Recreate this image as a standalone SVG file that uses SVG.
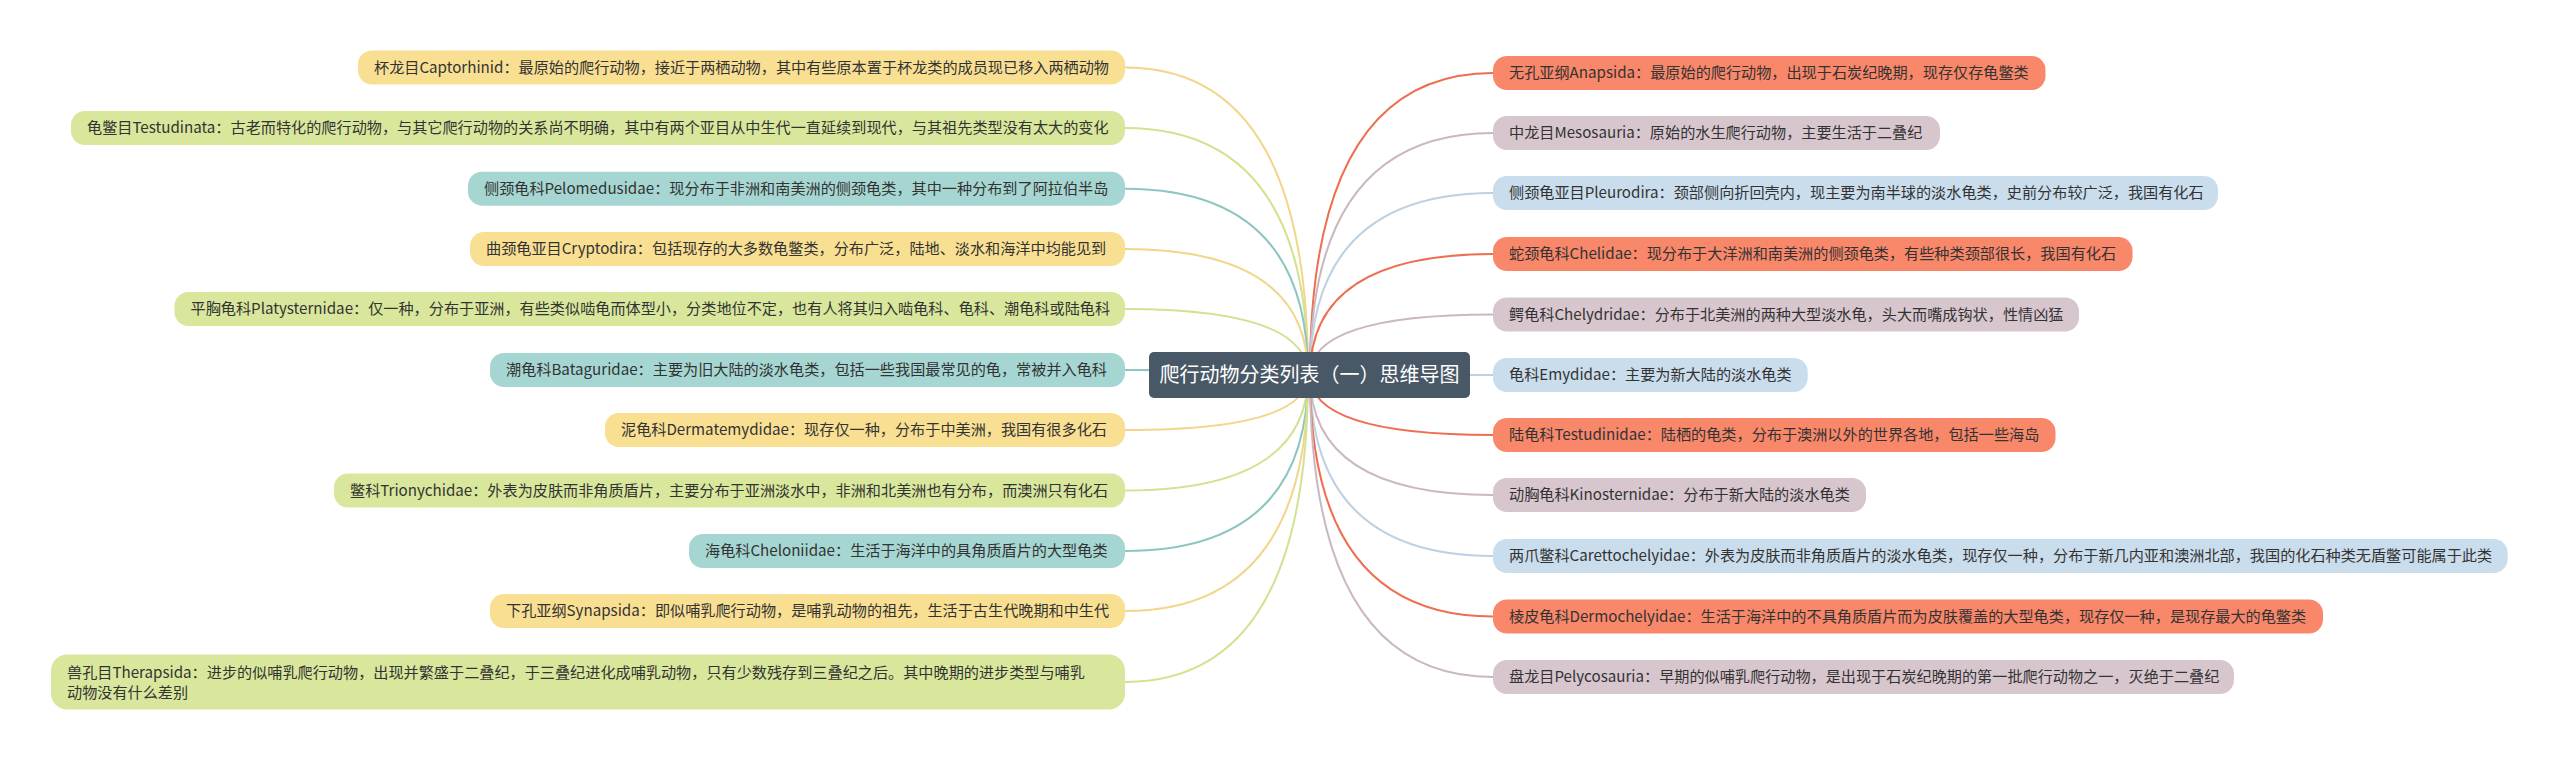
<svg xmlns="http://www.w3.org/2000/svg" width="2560" height="760" viewBox="0 0 2560 760">
<style>
.t{font-family:"Noto Sans CJK SC","Noto Sans",sans-serif;font-size:15.15px;fill:#333333}
.c{fill:none;stroke-width:2}
.y{fill:#F9DF92}.g{fill:#D8E79B}.tl{fill:#A6D6D2}.o{fill:#F9876A}.m{fill:#D8C6CE}.b{fill:#CADDEC}
.ly{stroke:#F3D68C}.lg{stroke:#D2E290}.ltl{stroke:#8CC6C1}.lo{stroke:#EE6E4F}.lm{stroke:#CBB7C1}.lb{stroke:#BDD1E3}
</style>
<rect width="2560" height="760" fill="#ffffff"/>
<g id="connectors">
<path class="c ly" d="M1308 375 Q1308 67.5 1125 67.5"/>
<path class="c lg" d="M1308 375 Q1308 128 1125 128"/>
<path class="c ltl" d="M1308 375 Q1308 188.7 1125 188.7"/>
<path class="c ly" d="M1308 375 Q1308 249 1125 249"/>
<path class="c lg" d="M1308 375 Q1308 309 1125 309"/>
<path class="c ltl" d="M1308 375 Q1308 370 1125 370"/>
<path class="c ly" d="M1308 375 Q1308 430 1125 430"/>
<path class="c lg" d="M1308 375 Q1308 490.5 1125 490.5"/>
<path class="c ltl" d="M1308 375 Q1308 551 1125 551"/>
<path class="c ly" d="M1308 375 Q1308 611 1125 611"/>
<path class="c lg" d="M1308 375 Q1308 682 1125 682"/>
<path class="c lo" d="M1310 375 Q1310 73 1493 73"/>
<path class="c lm" d="M1310 375 Q1310 133 1493 133"/>
<path class="c lb" d="M1310 375 Q1310 193 1493 193"/>
<path class="c lo" d="M1310 375 Q1310 254 1493 254"/>
<path class="c lm" d="M1310 375 Q1310 314.5 1493 314.5"/>
<path class="c lb" d="M1310 375 Q1310 375 1493 375"/>
<path class="c lo" d="M1310 375 Q1310 435 1493 435"/>
<path class="c lm" d="M1310 375 Q1310 495 1493 495"/>
<path class="c lb" d="M1310 375 Q1310 556 1493 556"/>
<path class="c lo" d="M1310 375 Q1310 616.5 1493 616.5"/>
<path class="c lm" d="M1310 375 Q1310 677 1493 677"/>
</g>
<g id="root">
<rect x="1149" y="352" width="321" height="46" rx="5" fill="#485866"/>
<text x="1309.5" y="382" text-anchor="middle" font-family="'Noto Sans CJK SC',sans-serif" font-size="20" fill="#ffffff">爬行动物分类列表（一）思维导图</text>
</g>
<g id="L1"><rect class="y" x="358" y="50.5" width="767" height="34" rx="14"/><text class="t" x="374" y="72.5">杯龙目Captorhinid：最原始的爬行动物，接近于两栖动物，其中有些原本置于杯龙类的成员现已移入两栖动物</text></g>
<g id="L2"><rect class="g" x="71" y="111" width="1054" height="34" rx="14"/><text class="t" x="87" y="133">龟鳖目Testudinata：古老而特化的爬行动物，与其它爬行动物的关系尚不明确，其中有两个亚目从中生代一直延续到现代，与其祖先类型没有太大的变化</text></g>
<g id="L3"><rect class="tl" x="468" y="171.7" width="657" height="34" rx="14"/><text class="t" x="484" y="193.7">侧颈龟科Pelomedusidae：现分布于非洲和南美洲的侧颈龟类，其中一种分布到了阿拉伯半岛</text></g>
<g id="L4"><rect class="y" x="470" y="232" width="655" height="34" rx="14"/><text class="t" x="486" y="254">曲颈龟亚目Cryptodira：包括现存的大多数龟鳖类，分布广泛，陆地、淡水和海洋中均能见到</text></g>
<g id="L5"><rect class="g" x="174.5" y="292" width="950.5" height="34" rx="14"/><text class="t" x="190.5" y="314">平胸龟科Platysternidae：仅一种，分布于亚洲，有些类似啮龟而体型小，分类地位不定，也有人将其归入啮龟科、龟科、潮龟科或陆龟科</text></g>
<g id="L6"><rect class="tl" x="490" y="353" width="635" height="34" rx="14"/><text class="t" x="506" y="375">潮龟科Bataguridae：主要为旧大陆的淡水龟类，包括一些我国最常见的龟，常被并入龟科</text></g>
<g id="L7"><rect class="y" x="605" y="413" width="520" height="34" rx="14"/><text class="t" x="621" y="435">泥龟科Dermatemydidae：现存仅一种，分布于中美洲，我国有很多化石</text></g>
<g id="L8"><rect class="g" x="334" y="473.5" width="791" height="34" rx="14"/><text class="t" x="350" y="495.5">鳖科Trionychidae：外表为皮肤而非角质盾片，主要分布于亚洲淡水中，非洲和北美洲也有分布，而澳洲只有化石</text></g>
<g id="L9"><rect class="tl" x="689" y="534" width="436" height="34" rx="14"/><text class="t" x="705" y="556">海龟科Cheloniidae：生活于海洋中的具角质盾片的大型龟类</text></g>
<g id="L10"><rect class="y" x="490" y="594" width="635" height="34" rx="14"/><text class="t" x="506" y="616">下孔亚纲Synapsida：即似哺乳爬行动物，是哺乳动物的祖先，生活于古生代晚期和中生代</text></g>
<g id="L11"><rect class="g" x="51" y="654.5" width="1074" height="55" rx="16"/><text class="t" x="67" y="678">兽孔目Therapsida：进步的似哺乳爬行动物，出现并繁盛于二叠纪，于三叠纪进化成哺乳动物，只有少数残存到三叠纪之后。其中晚期的进步类型与哺乳</text><text class="t" x="67" y="698">动物没有什么差别</text></g>
<g id="R1"><rect class="o" x="1493" y="56" width="552.5" height="34" rx="14"/><text class="t" x="1509" y="78">无孔亚纲Anapsida：最原始的爬行动物，出现于石炭纪晚期，现存仅存龟鳖类</text></g>
<g id="R2"><rect class="m" x="1493" y="116" width="447" height="34" rx="14"/><text class="t" x="1509" y="138">中龙目Mesosauria：原始的水生爬行动物，主要生活于二叠纪</text></g>
<g id="R3"><rect class="b" x="1493" y="176" width="725" height="34" rx="14"/><text class="t" x="1509" y="198">侧颈龟亚目Pleurodira：颈部侧向折回壳内，现主要为南半球的淡水龟类，史前分布较广泛，我国有化石</text></g>
<g id="R4"><rect class="o" x="1493" y="237" width="639.5" height="34" rx="14"/><text class="t" x="1509" y="259">蛇颈龟科Chelidae：现分布于大洋洲和南美洲的侧颈龟类，有些种类颈部很长，我国有化石</text></g>
<g id="R5"><rect class="m" x="1493" y="297.5" width="586" height="34" rx="14"/><text class="t" x="1509" y="319.5">鳄龟科Chelydridae：分布于北美洲的两种大型淡水龟，头大而嘴成钩状，性情凶猛</text></g>
<g id="R6"><rect class="b" x="1493" y="358" width="314.7" height="34" rx="14"/><text class="t" x="1509" y="380">龟科Emydidae：主要为新大陆的淡水龟类</text></g>
<g id="R7"><rect class="o" x="1493" y="418" width="562.5" height="34" rx="14"/><text class="t" x="1509" y="440">陆龟科Testudinidae：陆栖的龟类，分布于澳洲以外的世界各地，包括一些海岛</text></g>
<g id="R8"><rect class="m" x="1493" y="478" width="373" height="34" rx="14"/><text class="t" x="1509" y="500">动胸龟科Kinosternidae：分布于新大陆的淡水龟类</text></g>
<g id="R9"><rect class="b" x="1493" y="539" width="1014.6" height="34" rx="14"/><text class="t" x="1509" y="561">两爪鳖科Carettochelyidae：外表为皮肤而非角质盾片的淡水龟类，现存仅一种，分布于新几内亚和澳洲北部，我国的化石种类无盾鳖可能属于此类</text></g>
<g id="R10"><rect class="o" x="1493" y="599.5" width="830" height="34" rx="14"/><text class="t" x="1509" y="621.5">棱皮龟科Dermochelyidae：生活于海洋中的不具角质盾片而为皮肤覆盖的大型龟类，现存仅一种，是现存最大的龟鳖类</text></g>
<g id="R11"><rect class="m" x="1493" y="660" width="741" height="34" rx="14"/><text class="t" x="1509" y="682">盘龙目Pelycosauria：早期的似哺乳爬行动物，是出现于石炭纪晚期的第一批爬行动物之一，灭绝于二叠纪</text></g>
</svg>
